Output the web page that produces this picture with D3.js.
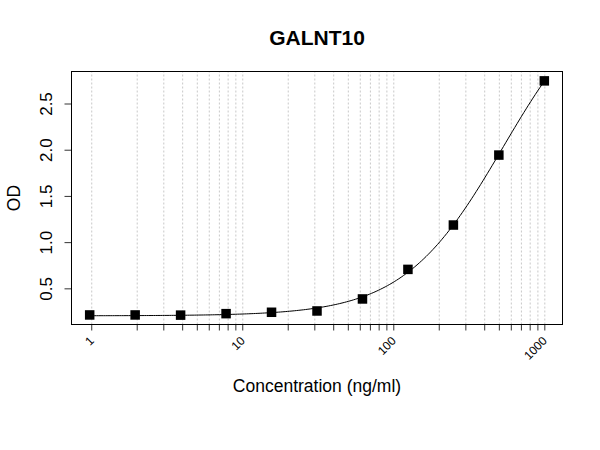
<!DOCTYPE html>
<html>
<head>
<meta charset="utf-8">
<script src="https://cdn.jsdelivr.net/npm/d3@7"></script>
<style>
  html, body { margin: 0; padding: 0; background: #fff; }
  svg { display: block; font-family: "Liberation Sans", Arial, sans-serif; }
</style>
</head>
<body>
<svg id="chart" width="600" height="450"></svg>
<script>
// ---- data ----
const chartTitle = "GALNT10";
const xLabel = "Concentration (ng/ml)";
const yLabel = "OD";
const concentrations = [0.9765625, 1.953125, 3.90625, 7.8125, 15.625, 31.25, 62.5, 125, 250, 500, 1000];
const odValues = [0.212, 0.212, 0.210, 0.226, 0.241, 0.255, 0.385, 0.705, 1.185, 1.942, 2.745];
const xTickValues = [1,2,3,4,5,6,7,8,9,10,20,30,40,50,60,70,80,90,100,200,300,400,500,600,700,800,900,1000];
const xTickLabels = [1, 10, 100, 1000];
const yTickValues = [0.5, 1.0, 1.5, 2.0, 2.5];

// ---- layout ----
const L = 71.5, R = 562.5, T = 71.5, B = 324.5;
const svg = d3.select("#chart");

// R-style 4% axis padding
const lx = d3.extent(concentrations).map(Math.log10);
const padX = (lx[1] - lx[0]) * 0.04;
const x = d3.scaleLog().domain([Math.pow(10, lx[0] - padX), Math.pow(10, lx[1] + padX)]).range([L, R]);
const ye = d3.extent(odValues);
const padY = (ye[1] - ye[0]) * 0.04;
const y = d3.scaleLinear().domain([ye[0] - padY, ye[1] + padY]).range([B, T]);

// ---- 4PL fit (Nelder-Mead least squares) ----
function f4(p, xv) { return p[1] + (p[0] - p[1]) / (1 + Math.pow(xv / Math.exp(p[2]), p[3])); }
function sse(p) {
  if (p[3] <= 0) return 1e9;
  let s = 0;
  concentrations.forEach((c, i) => { const r = f4(p, c) - odValues[i]; s += r * r; });
  return s;
}
function nelderMead(fn, x0, iters) {
  const n = x0.length;
  let pts = [x0.slice()];
  for (let i = 0; i < n; i++) { const p = x0.slice(); p[i] += (Math.abs(p[i]) > 1e-3 ? 0.2 * p[i] : 0.1); pts.push(p); }
  let vals = pts.map(fn);
  for (let k = 0; k < iters; k++) {
    const idx = d3.range(n + 1).sort((a, b) => vals[a] - vals[b]);
    pts = idx.map(i => pts[i]); vals = idx.map(i => vals[i]);
    const cen = d3.range(n).map(j => d3.mean(pts.slice(0, n), p => p[j]));
    const worst = pts[n];
    const xr = cen.map((c, j) => c + (c - worst[j]));
    const fr = fn(xr);
    if (fr < vals[0]) {
      const xe = cen.map((c, j) => c + 2 * (c - worst[j]));
      const fe = fn(xe);
      if (fe < fr) { pts[n] = xe; vals[n] = fe; } else { pts[n] = xr; vals[n] = fr; }
    } else if (fr < vals[n - 1]) {
      pts[n] = xr; vals[n] = fr;
    } else {
      const xc = cen.map((c, j) => c + 0.5 * (worst[j] - c));
      const fc = fn(xc);
      if (fc < vals[n]) { pts[n] = xc; vals[n] = fc; }
      else {
        for (let i = 1; i <= n; i++) { pts[i] = pts[i].map((v, j) => pts[0][j] + 0.5 * (v - pts[0][j])); vals[i] = fn(pts[i]); }
      }
    }
  }
  const best = d3.minIndex(vals);
  return pts[best];
}
let params = nelderMead(sse, [0.21, 4.0, Math.log(600), 1.3], 4000);
params = nelderMead(sse, params, 4000);

const curvePts = d3.range(0, 201).map(i => {
  const lv = lx[0] + (lx[1] - lx[0]) * i / 200;
  const cv = Math.pow(10, lv);
  return [cv, f4(params, cv)];
});

// ---- gridlines ----
svg.append("g")
  .attr("transform", `translate(0,${B})`)
  .call(d3.axisBottom(x).tickValues(xTickValues).tickSize(-(B - T)).tickFormat(""))
  .call(g => g.select(".domain").remove())
  .call(g => g.selectAll("line").attr("stroke", "#c8c8c8").attr("stroke-dasharray", "2,2"));

// ---- curve ----
svg.append("path")
  .datum(curvePts)
  .attr("fill", "none")
  .attr("stroke", "#000")
  .attr("stroke-width", 1)
  .attr("d", d3.line().x(d => x(d[0])).y(d => y(d[1])));

// ---- points ----
const sq = 9.5;
svg.append("g").selectAll("rect")
  .data(concentrations.map((c, i) => [c, odValues[i]]))
  .join("rect")
  .attr("x", d => x(d[0]) - sq / 2)
  .attr("y", d => y(d[1]) - sq / 2)
  .attr("width", sq).attr("height", sq)
  .attr("fill", "#000");

// ---- x axis ----
svg.append("g")
  .attr("transform", `translate(0,${B})`)
  .call(d3.axisBottom(x).tickValues(xTickValues).tickSize(6).tickSizeOuter(0)
    .tickFormat(d => xTickLabels.includes(d) ? String(d) : ""))
  .call(g => g.select(".domain").remove())
  .call(g => g.selectAll("line").attr("stroke", "#333"))
  .call(g => g.selectAll("text")
    .attr("x", 0).attr("y", 0).attr("dy", 0)
    .attr("text-anchor", "end")
    .attr("transform", "translate(3,17) rotate(-45)")
    .attr("font-size", 12)
    .attr("font-family", "Liberation Sans, Arial, sans-serif")
    .attr("fill", "#000"));

// ---- y axis ----
svg.append("g")
  .attr("transform", `translate(${L},0)`)
  .call(d3.axisLeft(y).tickValues(yTickValues).tickSize(7).tickSizeOuter(0).tickFormat(d3.format(".1f")))
  .call(g => g.select(".domain").remove())
  .call(g => g.selectAll("line").attr("stroke", "#333"))
  .call(g => g.selectAll("text")
    .attr("x", 0).attr("y", 0).attr("dy", 0)
    .attr("text-anchor", "middle")
    .attr("transform", "translate(-20,0) rotate(-90)")
    .attr("font-size", 17)
    .attr("font-family", "Liberation Sans, Arial, sans-serif")
    .attr("fill", "#000"));

// ---- box ----
svg.append("rect")
  .attr("x", L).attr("y", T).attr("width", R - L).attr("height", B - T)
  .attr("fill", "none").attr("stroke", "#000").attr("stroke-width", 1);

// ---- titles ----
svg.append("text")
  .attr("x", (L + R) / 2).attr("y", 45)
  .attr("text-anchor", "middle")
  .attr("font-size", 21).attr("font-weight", "bold")
  .text(chartTitle);

svg.append("text")
  .attr("x", (L + R) / 2).attr("y", 392)
  .attr("text-anchor", "middle")
  .attr("font-size", 17.5)
  .text(xLabel);

svg.append("text")
  .attr("transform", `translate(20,${(T + B) / 2}) rotate(-90)`)
  .attr("text-anchor", "middle")
  .attr("font-size", 17.5)
  .text(yLabel);
</script>
</body>
</html>
